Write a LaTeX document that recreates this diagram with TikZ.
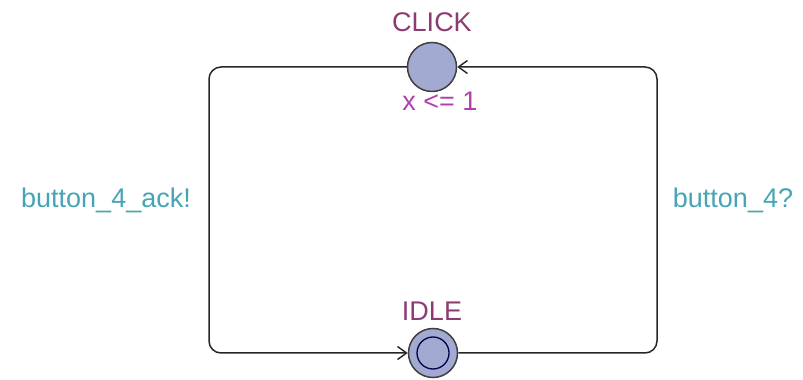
\documentclass[tikz,border=0pt]{standalone}
\usepackage{fontspec}
\setmainfont{Liberation Sans}
\usetikzlibrary{arrows.meta}
\definecolor{locfill}{RGB}{163,170,209}
\definecolor{locname}{RGB}{140,60,115}
\definecolor{invcol}{RGB}{176,64,176}
\definecolor{synccol}{RGB}{70,165,180}
\tikzset{
  loc/.style={circle,draw=black!75,fill=locfill,line width=1.5pt,minimum size=49pt,inner sep=0pt},
  lbl/.style={font=\fontsize{27}{31}\selectfont,inner sep=0pt},
  trans/.style={draw=black!85,line width=1.5pt,rounded corners=12pt,-{Straight Barb[length=9pt,width=13pt,line width=1.4pt]}}
}
\begin{document}
\begin{tikzpicture}[x=1pt,y=1pt]
\useasboundingbox (0,0) rectangle (803,380);
\node[loc](CLICK)at(432,313){};
\node[loc](IDLE)at(433,27){};
\node[circle,draw=black!70!blue,fill=locfill,line width=1.3pt,minimum size=32pt,inner sep=0pt](IDLEin)at(IDLE){};
\coordinate(TL)at(209,313);
\coordinate(BL)at(209,27);
\coordinate(TR)at(657,313);
\coordinate(BR)at(657,27);
\draw[trans](CLICK.west)--(TL)--(BL)--(IDLE.west);
\draw[trans](IDLE.east)--(BR)--(TR)--(CLICK.east);
\node[lbl,text=locname](clickname)at(432,358){CLICK};
\node[lbl,text=invcol](clickinv)at(440,279){x <= 1};
\node[lbl,text=locname](idlename)at(432,69){IDLE};
\node[lbl,text=synccol](ack)at(106,180){button\_4\_ack!};
\node[lbl,text=synccol](press)at(733,180){button\_4?};
\end{tikzpicture}
\end{document}
